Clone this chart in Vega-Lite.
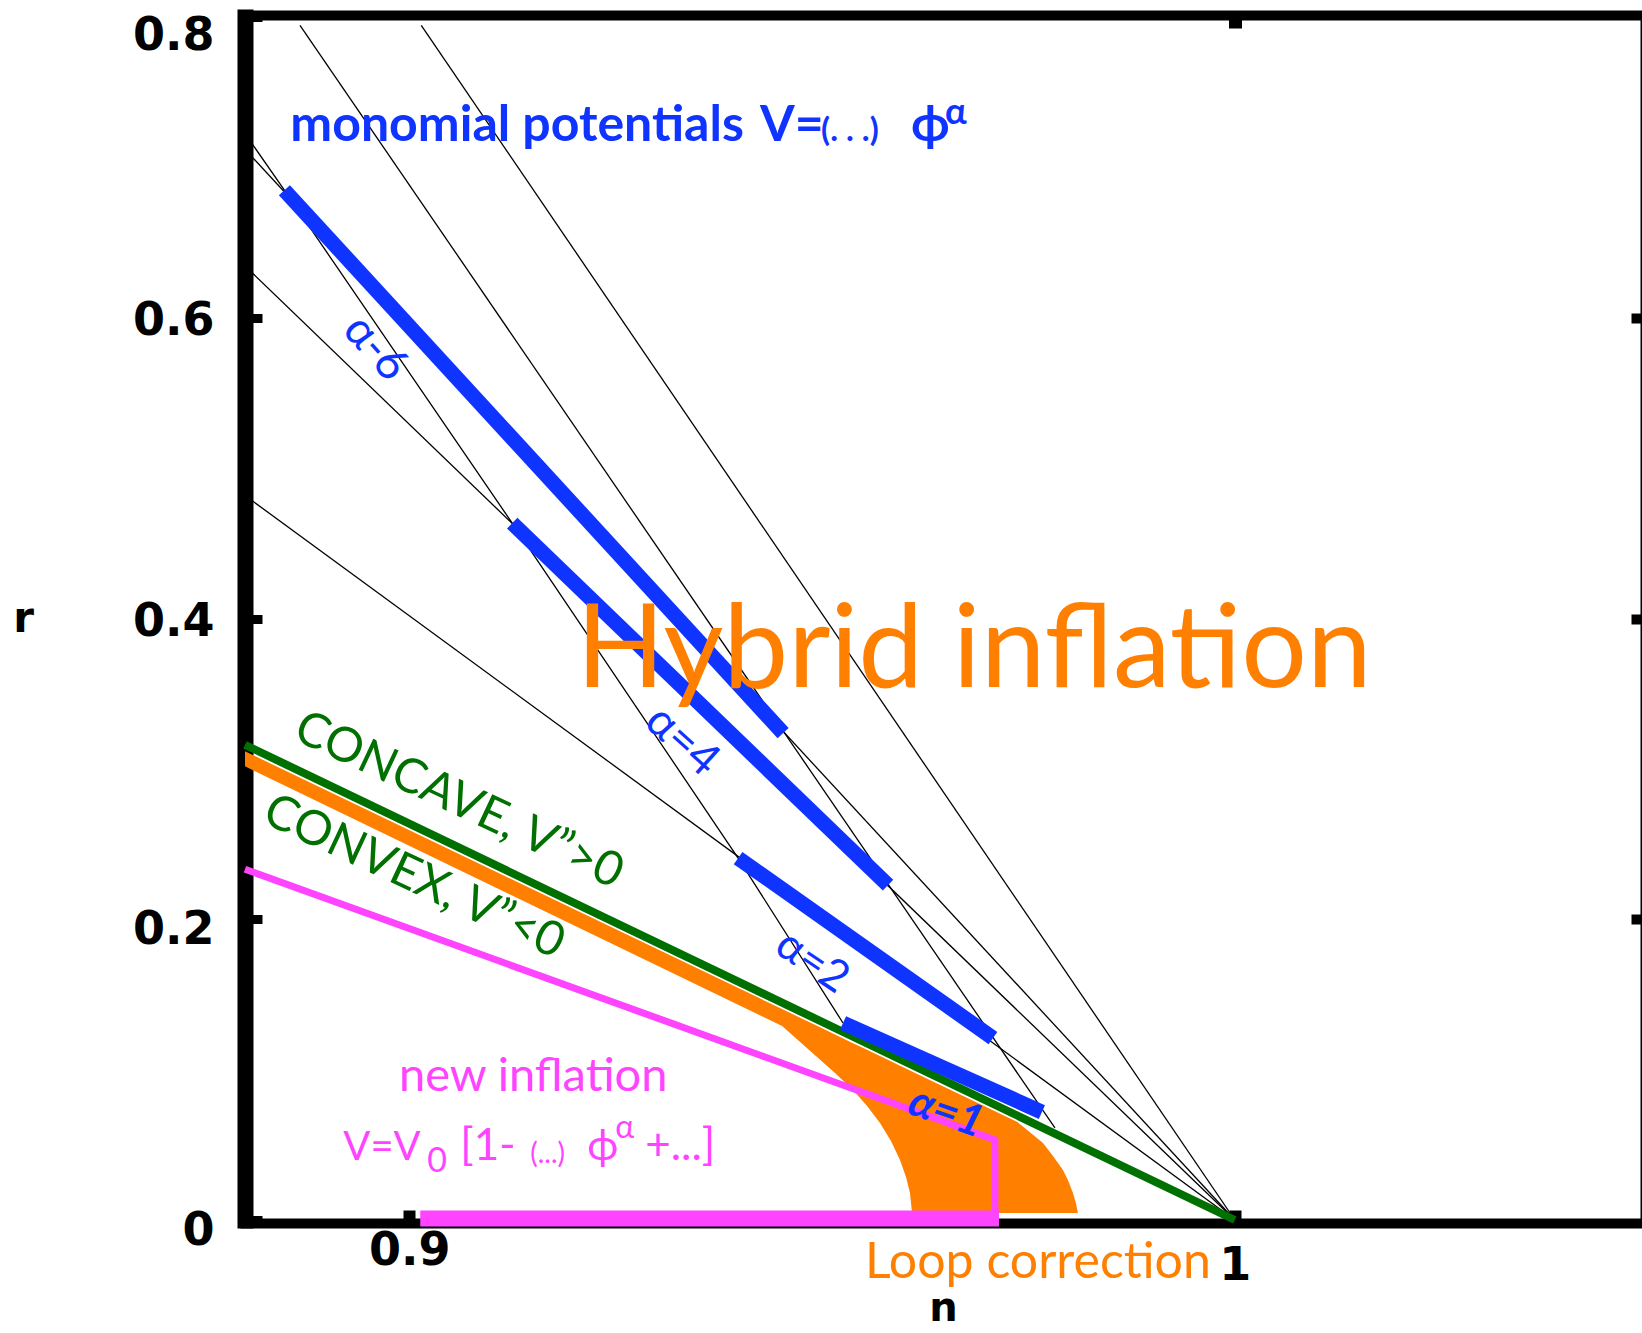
{
  "$schema": "https://vega.github.io/schema/vega-lite/v6.json",
  "width": 1396,
  "height": 1203,
  "autosize": "none",
  "padding": {"left": 245, "top": 17, "right": 1, "bottom": 113},
  "background": "white",
  "config": {"view": {"stroke": null}},
  "datasets": {
    "orange": [
      {"n": 0.8801, "r": 0.3117, "r2": 0.3017},
      {"n": 0.94516, "r": 0.1403, "r2": 0.1290},
      {"n": 0.94734, "r": 0.1345, "r2": 0.1184},
      {"n": 0.94939, "r": 0.1291, "r2": 0.1084},
      {"n": 0.95157, "r": 0.1234, "r2": 0.0977},
      {"n": 0.95375, "r": 0.1176, "r2": 0.0864},
      {"n": 0.95545, "r": 0.1132, "r2": 0.0758},
      {"n": 0.95702, "r": 0.1090, "r2": 0.0645},
      {"n": 0.95835, "r": 0.1055, "r2": 0.0525},
      {"n": 0.95944, "r": 0.1026, "r2": 0.0399},
      {"n": 0.96017, "r": 0.1007, "r2": 0.0286},
      {"n": 0.96065, "r": 0.0995, "r2": 0.0180},
      {"n": 0.9609, "r": 0.0988, "r2": 0.0047},
      {"n": 0.97361, "r": 0.0653, "r2": 0.0047},
      {"n": 0.97518, "r": 0.0584, "r2": 0.0047},
      {"n": 0.97676, "r": 0.0512, "r2": 0.0047},
      {"n": 0.97797, "r": 0.0426, "r2": 0.0047},
      {"n": 0.97918, "r": 0.0332, "r2": 0.0047},
      {"n": 0.97978, "r": 0.0266, "r2": 0.0047},
      {"n": 0.98039, "r": 0.0180, "r2": 0.0047},
      {"n": 0.98075, "r": 0.0113, "r2": 0.0047},
      {"n": 0.98099, "r": 0.0047, "r2": 0.0047}
    ],
    "thin": [
      {"id": "a6", "i": 0, "n": 0.8801, "r": 0.7120},
      {"id": "a6", "i": 1, "n": 1.0, "r": 0.0},
      {"id": "a4", "i": 0, "n": 0.8801, "r": 0.6345},
      {"id": "a4", "i": 1, "n": 1.0, "r": 0.0},
      {"id": "a2", "i": 0, "n": 0.8801, "r": 0.4818},
      {"id": "a2", "i": 1, "n": 1.0, "r": 0.0},
      {"id": "ninf", "i": 0, "n": 0.90145, "r": 0.7945},
      {"id": "ninf", "i": 1, "n": 1.0, "r": 0.0},
      {"id": "n2", "i": 0, "n": 0.88676, "r": 0.7945},
      {"id": "n2", "i": 1, "n": 0.97821, "r": 0.0612},
      {"id": "n1", "i": 0, "n": 0.8801, "r": 0.7225},
      {"id": "n1", "i": 1, "n": 0.88487, "r": 0.6848},
      {"id": "n1", "i": 2, "n": 0.91247, "r": 0.4634},
      {"id": "n1", "i": 3, "n": 0.93983, "r": 0.2407},
      {"id": "n1", "i": 4, "n": 0.95254, "r": 0.1310}
    ],
    "green": [
      {"n": 0.8801, "r": 0.316},
      {"n": 1.0, "r": 0.0}
    ],
    "blue": [
      {"seg": "a6", "n": 0.88487, "r": 0.6848},
      {"seg": "a6", "n": 0.94528, "r": 0.3238},
      {"seg": "a4", "n": 0.91247, "r": 0.4634},
      {"seg": "a4", "n": 0.95799, "r": 0.2227},
      {"seg": "a2", "n": 0.93983, "r": 0.2407},
      {"seg": "a2", "n": 0.9707, "r": 0.1210},
      {"seg": "a1", "n": 0.95254, "r": 0.1310},
      {"seg": "a1", "n": 0.97663, "r": 0.0718}
    ],
    "pinkline": [
      {"i": 0, "n": 0.8801, "r": 0.2333},
      {"i": 1, "n": 0.97094, "r": 0.0532},
      {"i": 2, "n": 0.97094, "r": 0.004}
    ],
    "pinkbar": [
      {"n": 0.90133, "r": 0.001},
      {"n": 0.97143, "r": 0.001}
    ],
    "axpt": [{"n": 1.0, "r": 0.0}]
  },
  "encoding": {
    "x": {"field": "n", "type": "quantitative", "scale": {"domain": [0.8801, 1.0492], "nice": false, "zero": false}, "axis": null},
    "y": {"field": "r", "type": "quantitative", "scale": {"domain": [0, 0.8], "nice": false, "zero": false}, "axis": null}
  },
  "layer": [
    {
      "data": {"name": "orange"},
      "mark": {"type": "area", "color": "#ff7f00", "interpolate": "linear", "opacity": 1},
      "encoding": {"y2": {"field": "r2"}}
    },
    {
      "data": {"name": "thin"},
      "mark": {"type": "line", "color": "black", "strokeWidth": 1.3},
      "encoding": {"detail": {"field": "id"}, "order": {"field": "i"}}
    },
    {
      "data": {"name": "green"},
      "mark": {"type": "line", "color": "#007000", "strokeWidth": 8},
      "encoding": {}
    },
    {
      "data": {"name": "blue"},
      "mark": {"type": "line", "color": "#1034ff", "strokeWidth": 15, "strokeCap": "butt"},
      "encoding": {"detail": {"field": "seg"}}
    },
    {
      "data": {"name": "pinkline"},
      "mark": {"type": "line", "color": "#ff44ff", "strokeWidth": 7, "strokeJoin": "miter"},
      "encoding": {"order": {"field": "i"}}
    },
    {
      "data": {"name": "pinkbar"},
      "mark": {"type": "line", "color": "#ff44ff", "strokeWidth": 16},
      "encoding": {}
    },
    {
      "data": {"values": [
        {"n": 0.88559, "r": 0.7174, "t": "monomial potentials"},
        {"n": 0.94249, "r": 0.7174, "t": "V="}
      ]},
      "mark": {"type": "text", "font": "Lato", "fontSize": 50, "fontWeight": "bold", "color": "#1034ff", "align": "left", "baseline": "alphabetic"},
      "encoding": {"text": {"field": "t"}}
    },
    {
      "data": {"values": [{"n": 0.94988, "r": 0.7174, "t": "(. . .)"}]},
      "mark": {"type": "text", "font": "Lato", "fontSize": 33, "fontWeight": "bold", "color": "#1034ff", "align": "left", "baseline": "alphabetic"},
      "encoding": {"text": {"field": "t"}}
    },
    {
      "data": {"values": [{"n": 0.96078, "r": 0.7174, "t": "ϕ"}]},
      "mark": {"type": "text", "font": "Lato", "fontSize": 50, "fontWeight": "bold", "color": "#1034ff", "align": "left", "baseline": "alphabetic"},
      "encoding": {"text": {"field": "t"}}
    },
    {
      "data": {"values": [{"n": 0.9649, "r": 0.7287, "t": "α"}]},
      "mark": {"type": "text", "font": "Lato", "fontSize": 36, "fontWeight": "bold", "color": "#1034ff", "align": "left", "baseline": "alphabetic"},
      "encoding": {"text": {"field": "t"}}
    },
    {
      "data": {"values": [{"n": 0.89588, "r": 0.5798, "t": "α-6"}]},
      "mark": {"type": "text", "font": "Lato", "fontSize": 46, "color": "#1034ff", "align": "center", "baseline": "middle", "angle": 48},
      "encoding": {"text": {"field": "t"}}
    },
    {
      "data": {"values": [{"n": 0.93305, "r": 0.3185, "t": "α=4"}]},
      "mark": {"type": "text", "font": "Lato", "fontSize": 46, "color": "#1034ff", "align": "center", "baseline": "middle", "angle": 42},
      "encoding": {"text": {"field": "t"}}
    },
    {
      "data": {"values": [{"n": 0.94879, "r": 0.1715, "t": "α=2"}]},
      "mark": {"type": "text", "font": "Lato", "fontSize": 44, "color": "#1034ff", "align": "center", "baseline": "middle", "angle": 34},
      "encoding": {"text": {"field": "t"}}
    },
    {
      "data": {"values": [{"n": 0.96501, "r": 0.0711, "t": "α=1"}]},
      "mark": {"type": "text", "font": "Lato", "fontSize": 44, "fontStyle": "italic", "fontWeight": "bold", "color": "#1034ff", "align": "center", "baseline": "middle", "angle": 19},
      "encoding": {"text": {"field": "t"}}
    },
    {
      "data": {"values": [{"n": 0.9684, "r": 0.3544, "t": "Hybrid inflation"}]},
      "mark": {"type": "text", "font": "Lato", "fontSize": 116, "color": "#ff7f00", "align": "center", "baseline": "alphabetic"},
      "encoding": {"text": {"field": "t"}}
    },
    {
      "data": {"values": [
        {"n": 0.90599, "r": 0.2786, "t": "CONCAVE, V”>0"},
        {"n": 0.90054, "r": 0.2277, "t": "CONVEX, V”<0"}
      ]},
      "mark": {"type": "text", "font": "Lato", "fontSize": 48, "color": "#007000", "align": "center", "baseline": "middle", "angle": 25},
      "encoding": {"text": {"field": "t"}}
    },
    {
      "data": {"values": [{"n": 0.91501, "r": 0.0861, "t": "new inflation"}]},
      "mark": {"type": "text", "font": "Lato", "fontSize": 47, "color": "#ff44ff", "align": "center", "baseline": "alphabetic"},
      "encoding": {"text": {"field": "t"}}
    },
    {
      "data": {"values": [{"n": 0.89201, "r": 0.0399, "t": "V=V"}]},
      "mark": {"type": "text", "font": "Lato", "fontSize": 40, "color": "#ff44ff", "align": "left", "baseline": "alphabetic"},
      "encoding": {"text": {"field": "t"}}
    },
    {
      "data": {"values": [
        {"n": 0.90617, "r": 0.0399, "t": "[1-"},
        {"n": 0.92857, "r": 0.0399, "t": "+...]"}
      ]},
      "mark": {"type": "text", "font": "Lato", "fontSize": 44, "color": "#ff44ff", "align": "left", "baseline": "alphabetic"},
      "encoding": {"text": {"field": "t"}}
    },
    {
      "data": {"values": [{"n": 0.90218, "r": 0.0319, "t": "0"}]},
      "mark": {"type": "text", "font": "Lato", "fontSize": 34, "color": "#ff44ff", "align": "left", "baseline": "alphabetic"},
      "encoding": {"text": {"field": "t"}}
    },
    {
      "data": {"values": [{"n": 0.91465, "r": 0.0379, "t": "(...)"}]},
      "mark": {"type": "text", "font": "Lato", "fontSize": 28, "color": "#ff44ff", "align": "left", "baseline": "alphabetic"},
      "encoding": {"text": {"field": "t"}}
    },
    {
      "data": {"values": [{"n": 0.92155, "r": 0.0399, "t": "ϕ"}]},
      "mark": {"type": "text", "font": "Lato", "fontSize": 42, "color": "#ff44ff", "align": "left", "baseline": "alphabetic"},
      "encoding": {"text": {"field": "t"}}
    },
    {
      "data": {"values": [{"n": 0.92494, "r": 0.0545, "t": "α"}]},
      "mark": {"type": "text", "font": "Lato", "fontSize": 32, "color": "#ff44ff", "align": "left", "baseline": "alphabetic"},
      "encoding": {"text": {"field": "t"}}
    },
    {
      "data": {"values": [{"n": 0.97615, "r": -0.0386, "t": "Loop correction"}]},
      "mark": {"type": "text", "font": "Lato", "fontSize": 50, "color": "#ff7f00", "align": "center", "baseline": "alphabetic"},
      "encoding": {"text": {"field": "t"}}
    },
    {
      "data": {"name": "axpt"},
      "mark": {"type": "point", "opacity": 0},
      "encoding": {
        "x": {"field": "n", "type": "quantitative", "scale": {"domain": [0.8801, 1.0492], "nice": false, "zero": false},
          "axis": {"orient": "bottom", "values": [0.9, 1], "format": "~g", "grid": false,
            "domainColor": "black", "domainWidth": 10, "domainCap": "square", "offset": 3,
            "tickColor": "black", "tickSize": -13, "tickWidth": 12,
            "labelFont": "DejaVu Sans", "labelFontSize": 46, "labelFontWeight": "bold", "labelColor": "black",
            "labelPadding": {"condition": {"test": "datum.value > 0.95", "value": 33}, "value": 18},
            "labelFlush": false, "labelOverlap": false,
            "title": "n", "titleFont": "DejaVu Sans", "titleFontSize": 40, "titleFontWeight": "bold", "titleColor": "black", "titlePadding": 0}},
        "y": {"field": "r", "type": "quantitative", "scale": {"domain": [0, 0.8], "nice": false, "zero": false},
          "axis": {"orient": "left", "values": [0, 0.2, 0.4, 0.6, 0.8], "format": "~g", "grid": false,
            "domainColor": "black", "domainWidth": 16, "domainCap": "square",
            "tickColor": "black", "tickSize": -17, "tickWidth": 9,
            "labelFont": "DejaVu Sans", "labelFontSize": 46, "labelFontWeight": "bold", "labelColor": "black", "labelPadding": 48, "labelFlush": false, "labelOverlap": false,
            "labelOffset": {"condition": [{"test": "datum.value > 0.7", "value": 18}, {"test": "datum.value < 0.3", "value": 10}], "value": 3},
            "title": "r", "titleAngle": 0, "titleAlign": "right", "titleBaseline": "middle", "titleFont": "DejaVu Sans", "titleFontSize": 42, "titleFontWeight": "bold", "titleColor": "black", "titlePadding": 99}}
      }
    },
    {
      "data": {"name": "axpt"},
      "mark": {"type": "point", "opacity": 0},
      "encoding": {
        "x": {"field": "n", "type": "quantitative", "scale": {"domain": [0.8801, 1.0492], "nice": false, "zero": false},
          "axis": {"orient": "top", "values": [1], "labels": false, "grid": false, "title": null,
            "domainColor": "black", "domainWidth": 10, "domainCap": "square", "offset": 2,
            "tickColor": "black", "tickSize": -13, "tickWidth": 13}},
        "y": {"field": "r", "type": "quantitative", "scale": {"domain": [0, 0.8], "nice": false, "zero": false},
          "axis": {"orient": "right", "values": [0.2, 0.4, 0.6], "labels": false, "grid": false, "title": null,
            "domainColor": "black", "domainWidth": 2,
            "tickColor": "black", "tickSize": -10, "tickWidth": 10}}
      }
    }
  ],
  "resolve": {"axis": {"x": "independent", "y": "independent"}}
}
